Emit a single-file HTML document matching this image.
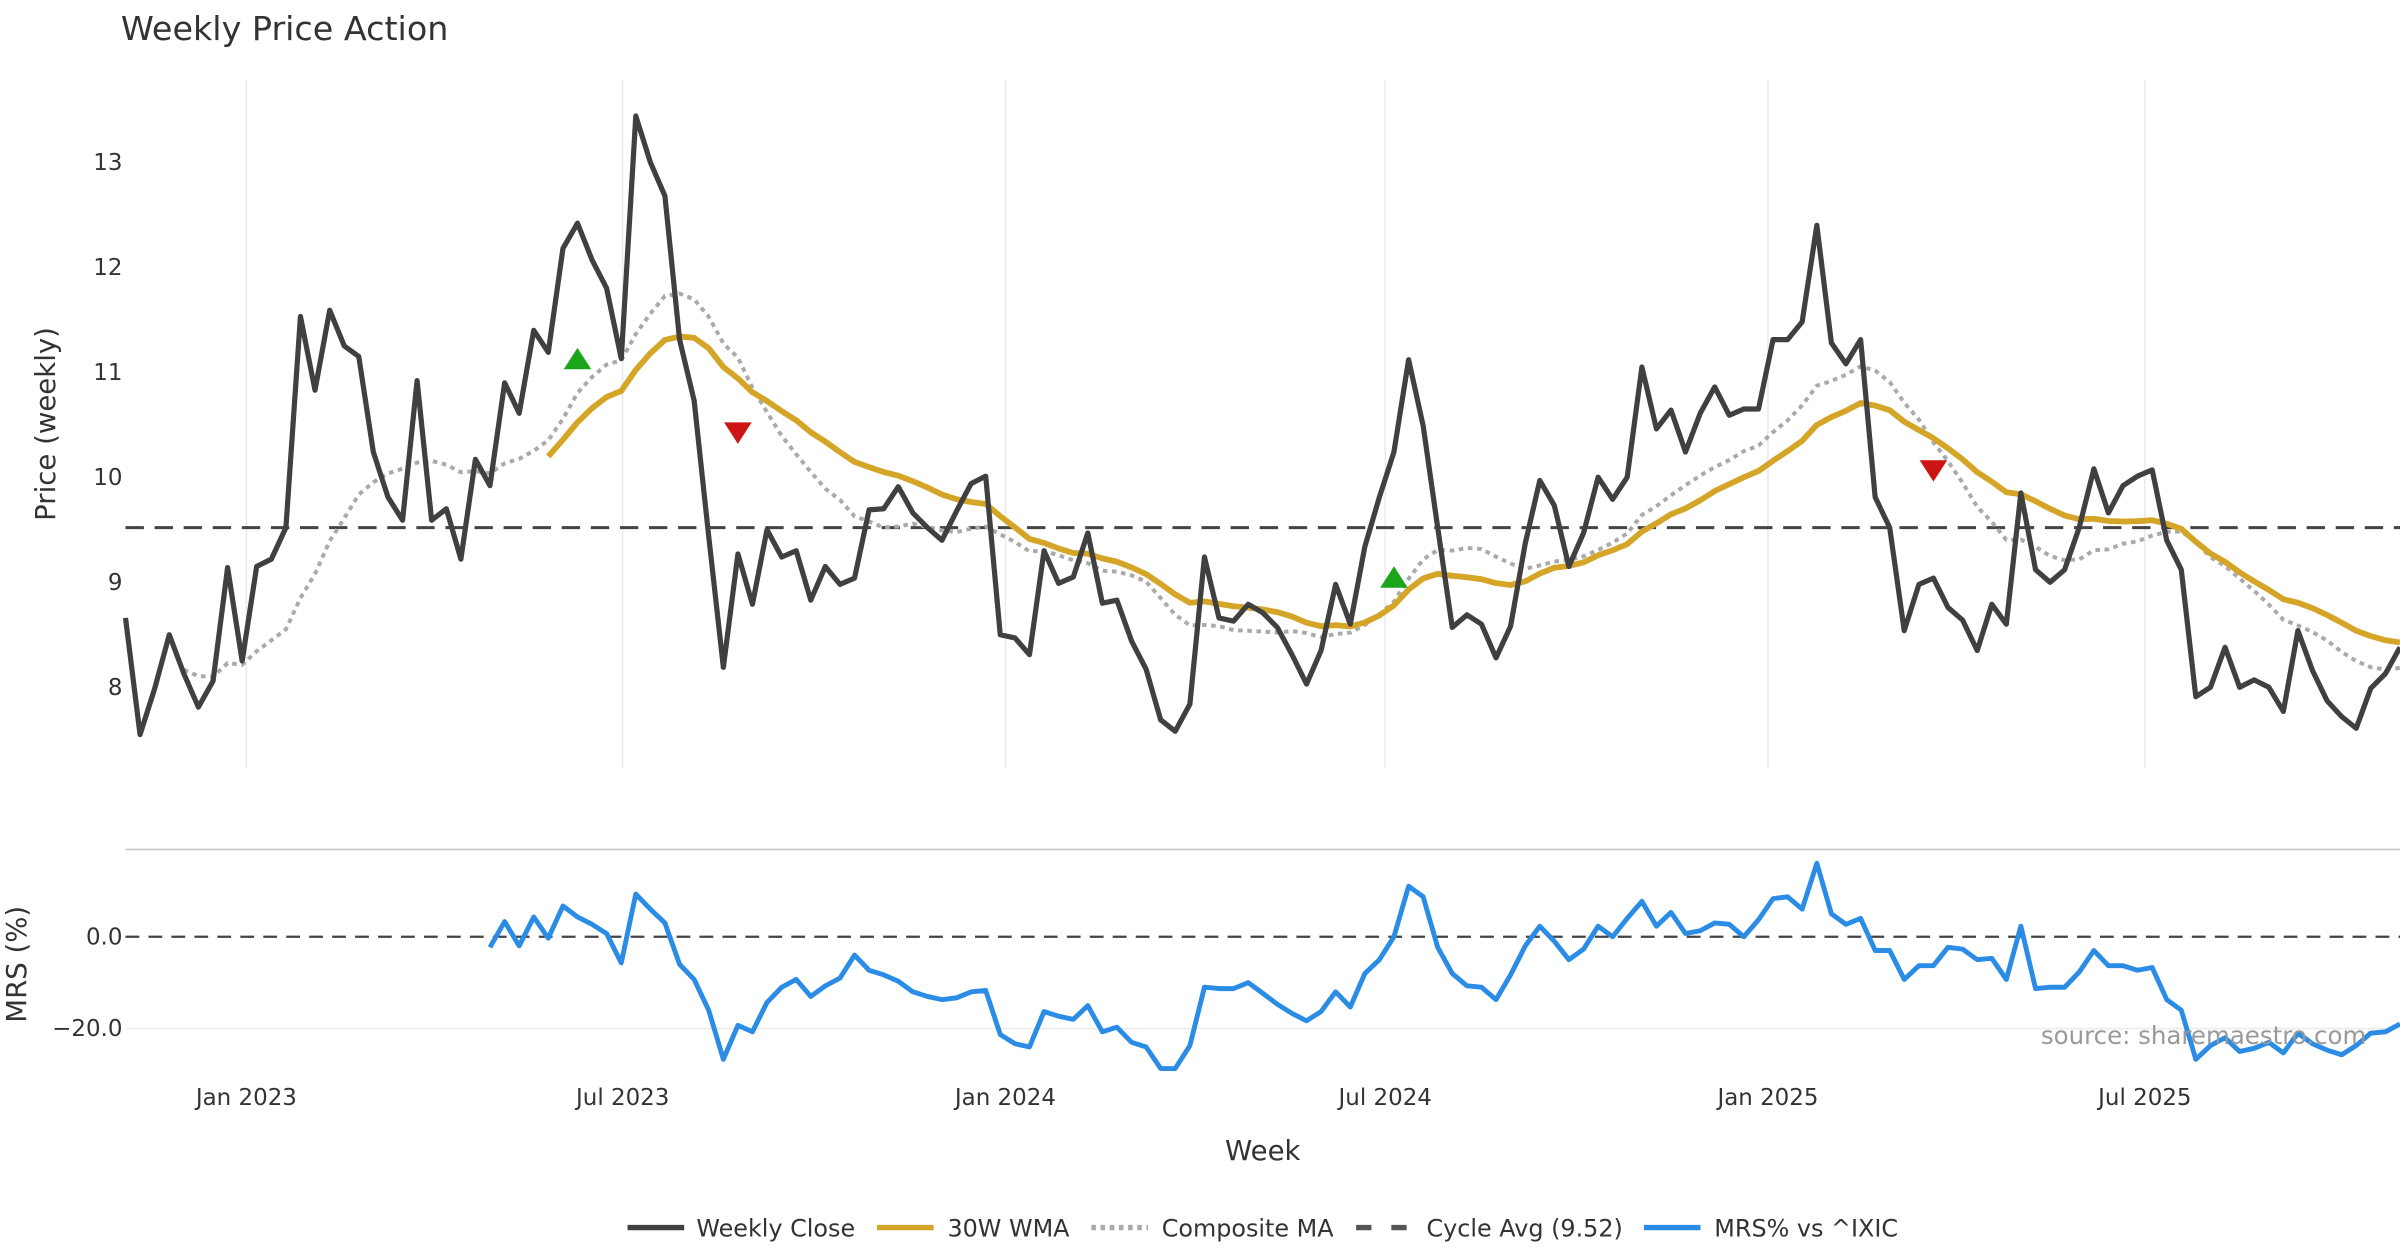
<!DOCTYPE html>
<html><head><meta charset="utf-8"><style>
html,body{margin:0;padding:0;background:#fff;}
svg{display:block;font-family:"DejaVu Sans","Liberation Sans",sans-serif;}
</style></head><body>
<svg id="chart" width="2400" height="1260" viewBox="0 0 1568 823.2" xmlns="http://www.w3.org/2000/svg">
<text x="79" y="26" font-size="21.8" fill="#333">Weekly Price Action</text>
<g id="grid"></g>
<g id="price"></g>
<g id="mrs"></g>
<g id="axes"></g>
<text transform="translate(36,277) rotate(-90)" text-anchor="middle" font-size="18" fill="#333">Price (weekly)</text>
<text transform="translate(17,630) rotate(-90)" text-anchor="middle" font-size="18" fill="#333">MRS (%)</text>
<text x="825" y="758" text-anchor="middle" font-size="18" fill="#333">Week</text>
<text x="1546" y="682" text-anchor="end" font-size="16" fill="#999">source: sharemaestro.com</text>
<g id="legend"></g>
</svg>
<script>
const closeVals=[8.66,7.55,7.99,8.5,8.13,7.81,8.06,9.14,8.25,9.15,9.22,9.52,11.53,10.83,11.59,11.25,11.15,10.24,9.81,9.59,10.92,9.59,9.7,9.22,10.17,9.92,10.9,10.61,11.4,11.19,12.18,12.42,12.07,11.8,11.13,13.44,13.0,12.68,11.31,10.73,9.44,8.19,9.27,8.79,9.5,9.24,9.3,8.83,9.15,8.98,9.04,9.69,9.7,9.91,9.66,9.52,9.4,9.68,9.94,10.01,8.5,8.47,8.31,9.3,8.99,9.05,9.47,8.8,8.83,8.44,8.17,7.69,7.58,7.84,9.24,8.66,8.63,8.79,8.71,8.57,8.31,8.03,8.35,8.98,8.6,9.34,9.81,10.24,11.12,10.49,9.52,8.57,8.69,8.6,8.28,8.58,9.37,9.97,9.73,9.15,9.47,10.0,9.79,10.0,11.05,10.46,10.64,10.24,10.61,10.86,10.59,10.65,10.65,11.31,11.31,11.48,12.4,11.28,11.08,11.31,9.81,9.52,8.54,8.98,9.04,8.76,8.64,8.35,8.79,8.6,9.85,9.12,9.0,9.12,9.52,10.08,9.66,9.92,10.01,10.07,9.4,9.12,7.91,8.0,8.38,8.0,8.07,8.0,7.77,8.54,8.16,7.87,7.72,7.61,7.99,8.13,8.38];
const mrsStart=25;
const mrsVals=[-2.3,3.3,-2,4.3,-0.3,6.7,4.3,2.7,0.7,-5.7,9.3,6,3,-6,-9.3,-16,-26.7,-19.3,-20.7,-14.3,-11,-9.3,-13,-10.7,-9,-4,-7.3,-8.3,-9.7,-12,-13,-13.7,-13.3,-12,-11.7,-21.3,-23.3,-24,-16.3,-17.3,-18,-15,-20.7,-19.7,-23,-24,-28.7,-28.7,-23.7,-11,-11.3,-11.3,-10,-12.3,-14.7,-16.7,-18.3,-16.3,-12,-15.3,-8,-5,0,11,8.7,-2.3,-8,-10.7,-11,-13.7,-8.3,-2,2.3,-1,-5,-2.7,2.3,0,4,7.7,2.3,5.3,0.7,1.3,3,2.7,0,3.7,8.3,8.7,6,16,5,2.7,4,-3,-3,-9.3,-6.3,-6.3,-2.3,-2.7,-5,-4.7,-9.3,2.3,-11.3,-11,-11,-7.7,-3,-6.3,-6.3,-7.3,-6.7,-13.7,-16,-26.7,-23.7,-22,-25,-24.3,-23,-25.3,-21,-23.3,-24.7,-25.7,-23.7,-21,-20.7,-19];
const cycleAvg=9.52;
const buyIdx=[31,87];const buyVals=[11.13,9.05];
const sellIdx=[42,124];const sellVals=[10.42,10.06];
const xTickLabels=["Jan 2023","Jul 2023","Jan 2024","Jul 2024","Jan 2025","Jul 2025"];
const xTickIdx=[8.29,34.1,60.35,86.4,112.65,138.5];
const priceTicks=[8,9,10,11,12,13];
const mrsTicks=[0,-20];

const NS="http://www.w3.org/2000/svg";
const n=closeVals.length;
const X0=82,X1=1568;
const xs=i=>X0+i*(X1-X0)/(n-1);
const yp=v=>106+(13-v)*68.6;
const ym=v=>612-v*3;
function mk(parent,tag,attrs){const e=document.createElementNS(NS,tag);for(const k in attrs)e.setAttribute(k,attrs[k]);document.getElementById(parent).appendChild(e);return e;}
function pts(arr,start,yf){return arr.map((v,j)=>v==null?null:xs(j+start).toFixed(1)+","+yf(v).toFixed(1)).filter(p=>p).join(" ");}

function sma(i,w){const a=Math.max(0,i-w+1);let s=0;for(let k=a;k<=i;k++)s+=closeVals[k];return s/(i-a+1);}
const wma=closeVals.map((v,i)=>{if(i<29)return null;let s=0,w=0;for(let k=0;k<30;k++){s+=closeVals[i-29+k]*(k+1);w+=k+1;}return s/w;});
const comp=closeVals.map((v,i)=>i<4?null:(sma(i,8)+sma(i,13)+sma(i,20))/3);

xTickIdx.forEach((t,j)=>{
  let g=mk('grid','line',{x1:xs(t),x2:xs(t),y1:52,y2:502,stroke:'#ebebeb','stroke-width':1});
  
  
  let l=mk('axes','text',{x:xs(t),y:722,'text-anchor':'middle','font-size':15,fill:'#333'});
  l.textContent=xTickLabels[j];
  
  
});
priceTicks.forEach(t=>{
  let l=mk('axes','text',{x:80,y:yp(t)+5,'text-anchor':'end','font-size':15,fill:'#333'});
  l.textContent=String(t);
  
  
});
mrsTicks.forEach(t=>{
  let l=mk('axes','text',{x:80,y:ym(t)+5,'text-anchor':'end','font-size':15,fill:'#333'});
  l.textContent=t===0?"0.0":"\u2212"+Math.abs(t).toFixed(1);
  
  
  if(t!==0){let g=mk('grid','line',{x1:X0,x2:X1,y1:ym(t),y2:ym(t),stroke:'#ebebeb','stroke-width':1});
  
  }
});
let sep=mk('grid','line',{x1:X0,x2:X1,y1:555,y2:555,stroke:'#ccc','stroke-width':1.2});



let ca=mk('price','line',{x1:X0,x2:X1,y1:yp(cycleAvg),y2:yp(cycleAvg),stroke:'#444','stroke-width':2,'stroke-dasharray':'12,7'});


let cm=mk('price','polyline',{points:pts(comp,0,yp),fill:'none',stroke:'#aaa','stroke-width':2.6,'stroke-dasharray':'3,3'});


let wl=mk('price','polyline',{points:pts(wma,0,yp),fill:'none',stroke:'#d4a526','stroke-width':3.8,'stroke-linejoin':'round'});


let cl=mk('price','polyline',{points:pts(closeVals,0,yp),fill:'none',stroke:'#404040','stroke-width':3.4,'stroke-linejoin':'round'});


buyIdx.forEach((b,j)=>{const x=xs(b),y=yp(buyVals[j]);
  let t=mk('price','polygon',{points:`${x-9},${y+7} ${x+9},${y+7} ${x},${y-7}`,fill:'#1aa51a'});
  
  });
sellIdx.forEach((b,j)=>{const x=xs(b),y=yp(sellVals[j]);
  let t=mk('price','polygon',{points:`${x-9},${y-7} ${x+9},${y-7} ${x},${y+7}`,fill:'#cc1414'});
  
  });

let z=mk('mrs','line',{x1:X0,x2:X1,y1:ym(0),y2:ym(0),stroke:'#444','stroke-width':1.5,'stroke-dasharray':'9,6'});


let ml=mk('mrs','polyline',{points:pts(mrsVals,mrsStart,ym),fill:'none',stroke:'#2b8ce6','stroke-width':3.2,'stroke-linejoin':'round'});



const lg=[["Weekly Close","#404040","",410,455],["30W WMA","#d4a526","",573,619],["Composite MA","#aaa","3,3",713,759],["Cycle Avg (9.52)","#555","10,13",886,932],["MRS% vs ^IXIC","#2b8ce6","",1074,1120]];
lg.forEach(l=>{
  let s=mk('legend','line',{x1:l[3],x2:l[3]+37,y1:802,y2:802,stroke:l[1],'stroke-width':3.5});
  if(l[2])s.setAttribute('stroke-dasharray',l[2]);
  
  
  let t=mk('legend','text',{x:l[4],y:808,'font-size':15.6,fill:'#333'});
  t.textContent=l[0];
  
  
});
</script>
</body></html>
